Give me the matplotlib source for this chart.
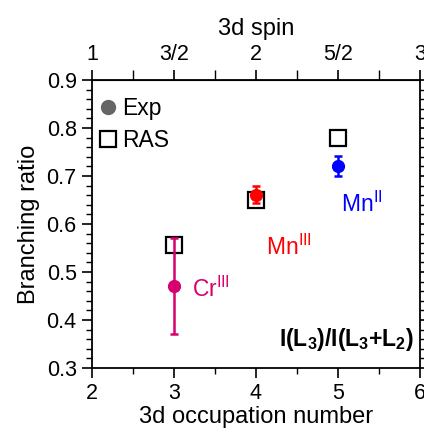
import numpy as np
import matplotlib
matplotlib.use("Agg")
import matplotlib.pyplot as plt
from matplotlib.lines import Line2D
from matplotlib.ticker import MultipleLocator, FixedLocator

plt.rcParams['font.family'] = ['Liberation Sans', 'DejaVu Sans']
plt.rcParams['mathtext.fontset'] = 'custom'
plt.rcParams['mathtext.rm'] = 'Liberation Sans'
plt.rcParams['mathtext.bf'] = 'Liberation Sans:bold'

# data
ions = ["Cr", "MnIII", "MnII"]
occupation = [3, 4, 5]
exp_ratio = [0.47, 0.66, 0.72]
exp_err_low = [0.10, 0.017, 0.02]
exp_err_high = [0.10, 0.02, 0.022]
ras_ratio = [0.556, 0.65, 0.78]
colors = ["#d6006f", "#ff0000", "#0000ff"]
labels = [r"Cr$^{\mathrm{III}}$", r"Mn$^{\mathrm{III}}$", r"Mn$^{\mathrm{II}}$"]
label_pos = [(3.22, 0.463), (4.12, 0.552), (5.04, 0.64)]
spin_ticks = [1, 1.5, 2, 2.5, 3]
spin_labels = ["1", "3/2", "2", "5/2", "3"]

fig = plt.figure(figsize=(4.24, 4.36), dpi=100)
ax = fig.add_axes([92/424, 1-368/436, 328/424, 288/436])

for i in range(len(occupation)):
    ax.plot(occupation[i], ras_ratio[i], 's', ms=11.5, mfc='white', mec='black', mew=1.6, zorder=2)
    ax.errorbar(occupation[i], exp_ratio[i],
                yerr=[[exp_err_low[i]], [exp_err_high[i]]],
                fmt='o', ms=8.5, color=colors[i], ecolor=colors[i],
                elinewidth=1.8, capsize=3, capthick=1.8, zorder=3)
    ax.text(label_pos[i][0], label_pos[i][1], labels[i], color=colors[i],
            fontsize=16.5, va='center', ha='left')

ax.text(5.93, 0.36, r"$\mathbf{I(L_3)/I(L_3{+}L_2)}$", fontsize=16.5,
        ha='right', va='center')

ax.set_xlim(2, 6)
ax.set_ylim(0.3, 0.9)
ax.xaxis.set_major_locator(MultipleLocator(1))
ax.xaxis.set_minor_locator(MultipleLocator(0.5))
ax.yaxis.set_major_locator(MultipleLocator(0.1))
ax.yaxis.set_minor_locator(MultipleLocator(0.02))
ax.set_xlabel("3d occupation number", fontsize=17, labelpad=1)
ax.set_ylabel("Branching ratio", fontsize=17, labelpad=5)
ax.tick_params(which='major', direction='out', length=7, width=1.2, labelsize=15.5, pad=4)
ax.tick_params(which='minor', direction='out', length=4, width=1.0)
ax.tick_params(axis='y', which='both', right=True)
ax.yaxis.set_major_formatter(plt.FormatStrFormatter('%.1f'))
for s in ax.spines.values():
    s.set_linewidth(1.3)

sec = ax.secondary_xaxis('top', functions=(lambda x: x/2, lambda s: 2*s))
sec.xaxis.set_major_locator(FixedLocator(spin_ticks))
sec.set_xticklabels(spin_labels)
sec.xaxis.set_minor_locator(FixedLocator([1.25, 1.75, 2.25, 2.75]))
sec.tick_params(which='major', direction='out', length=7, width=1.2, labelsize=15.5, pad=4)
sec.tick_params(which='minor', direction='out', length=7, width=1.0)
sec.set_xlabel("3d spin", fontsize=17, labelpad=6)

handles = [Line2D([], [], marker='o', ls='none', color='#666666', ms=10),
           Line2D([], [], marker='s', ls='none', mfc='white', mec='black', mew=1.6, ms=12)]
ax.legend(handles, ["Exp", "RAS"], loc='upper left', bbox_to_anchor=(0.0, 0.958),
          frameon=False, fontsize=16.5, handletextpad=0.1, borderaxespad=0.0,
          borderpad=0.2, labelspacing=0.4, handlelength=1.0)

fig.savefig("out.png", dpi=100)
